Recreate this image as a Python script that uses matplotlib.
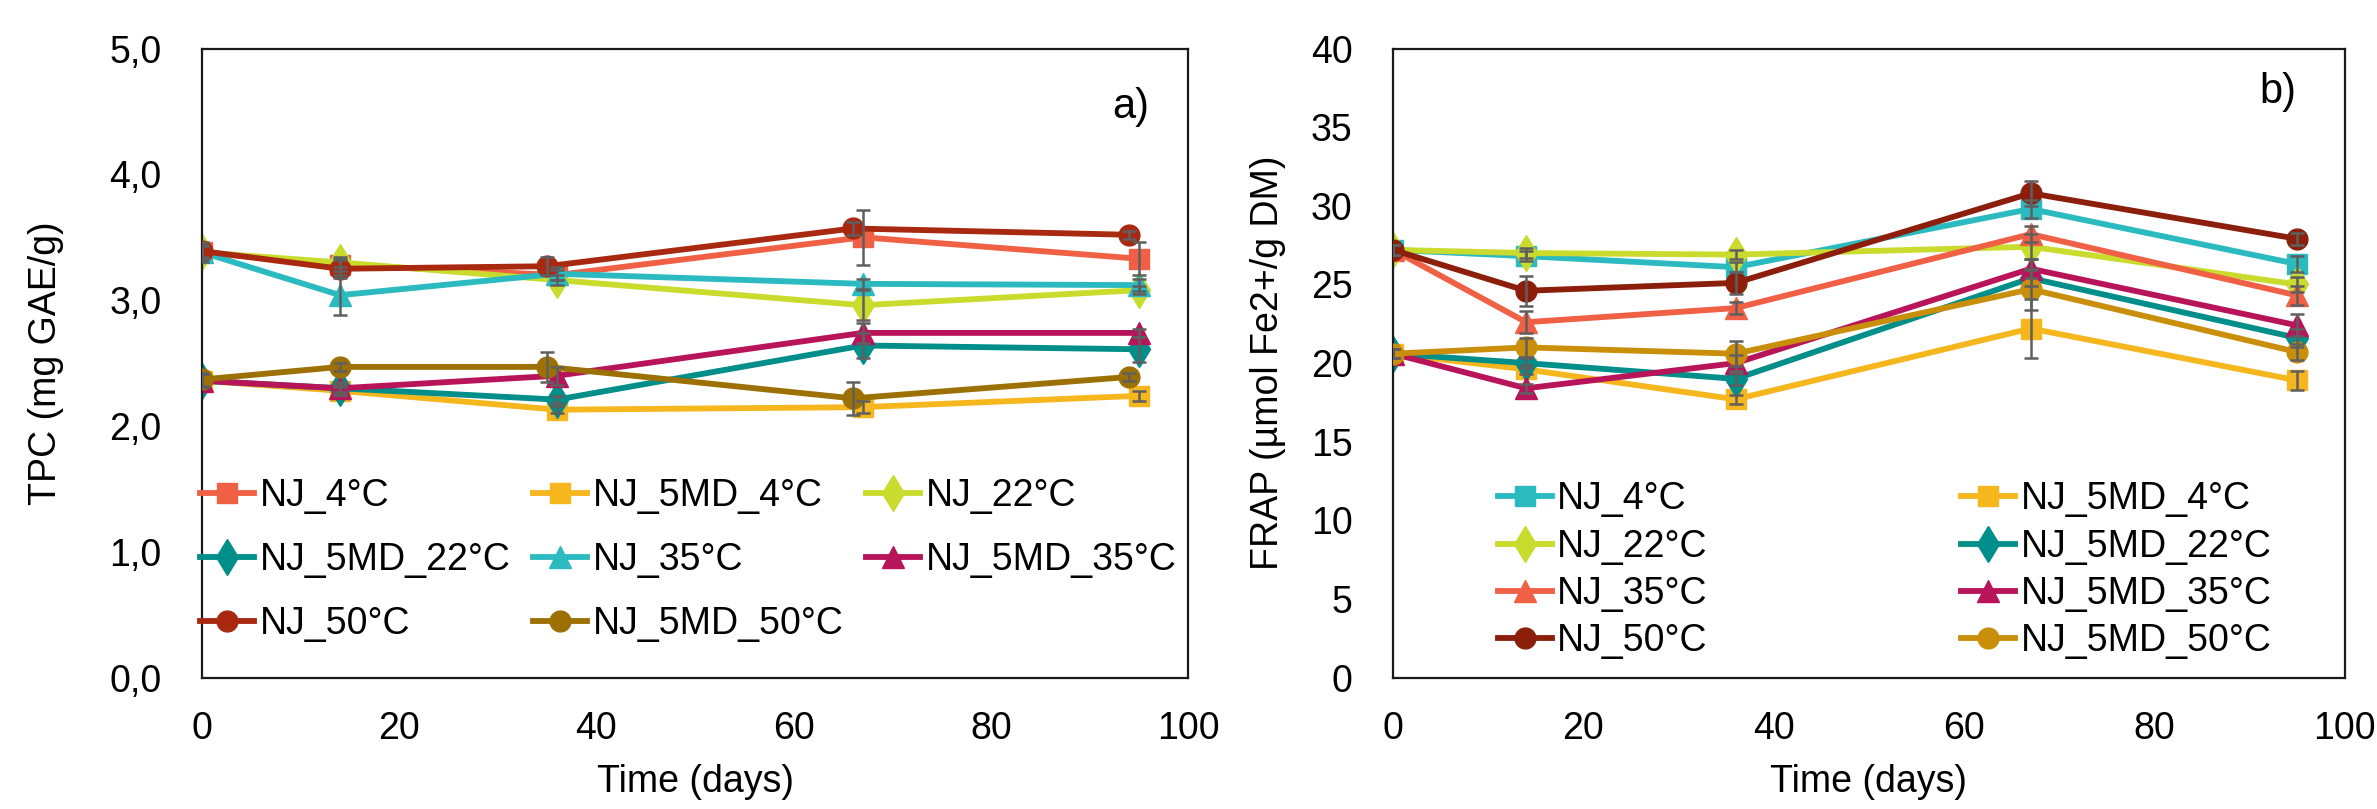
import matplotlib
matplotlib.use("Agg")
import matplotlib.pyplot as plt
from matplotlib.ticker import FuncFormatter, MultipleLocator

plt.rcParams['font.family'] = ['Liberation Sans', 'DejaVu Sans']

# ---------------- data ----------------
days = [0, 14, 36, 67, 95]
days_50 = [0, 14, 35, 66, 94]          # 50 °C series in panel a) plotted slightly shifted
days_right = [0, 14, 36, 67, 95]

labels = ["NJ_4°C", "NJ_5MD_4°C", "NJ_22°C", "NJ_5MD_22°C",
          "NJ_35°C", "NJ_5MD_35°C", "NJ_50°C", "NJ_5MD_50°C"]
markers = ["s", "s", "d", "d", "^", "^", "o", "o"]

# Panel a) TPC (mg GAE/g)
tpc_NJ_4 = [3.38, 3.28, 3.20, 3.50, 3.33]
tpc_5MD_4 = [2.36, 2.28, 2.13, 2.15, 2.24]
tpc_NJ_22 = [3.38, 3.30, 3.16, 2.96, 3.08]
tpc_5MD_22 = [2.36, 2.30, 2.21, 2.64, 2.61]
tpc_NJ_35 = [3.38, 3.04, 3.21, 3.13, 3.12]
tpc_5MD_35 = [2.36, 2.30, 2.40, 2.74, 2.74]
tpc_NJ_50 = [3.39, 3.25, 3.27, 3.57, 3.52]
tpc_5MD_50 = [2.37, 2.47, 2.47, 2.22, 2.39]

tpc_err_NJ_4 = [0.08, 0.05, 0.04, 0.22, 0.13]
tpc_err_5MD_4 = [0.05, 0.03, 0.03, 0.05, 0.04]
tpc_err_NJ_22 = [0.05, 0.04, 0.04, 0.12, 0.03]
tpc_err_5MD_22 = [0.05, 0.03, 0.03, 0.10, 0.10]
tpc_err_NJ_35 = [0.05, 0.16, 0.05, 0.04, 0.05]
tpc_err_5MD_35 = [0.05, 0.05, 0.07, 0.08, 0.03]
tpc_err_NJ_50 = [0.05, 0.07, 0.07, 0.05, 0.03]
tpc_err_5MD_50 = [0.05, 0.03, 0.12, 0.13, 0.03]

# Panel b) FRAP (µmol Fe2+/g DM)
frap_NJ_4 = [27.2, 26.8, 26.1, 29.8, 26.3]
frap_5MD_4 = [20.6, 19.6, 17.7, 22.2, 18.9]
frap_NJ_22 = [27.2, 27.0, 26.9, 27.4, 25.0]
frap_5MD_22 = [20.6, 20.0, 19.0, 25.4, 21.6]
frap_NJ_35 = [27.2, 22.6, 23.5, 28.2, 24.3]
frap_5MD_35 = [20.6, 18.4, 20.0, 26.0, 22.4]
frap_NJ_50 = [27.2, 24.6, 25.1, 30.8, 27.9]
frap_5MD_50 = [20.6, 21.0, 20.6, 24.7, 20.7]

frap_err_NJ_4 = [0.3, 0.3, 0.3, 0.6, 0.5]
frap_err_5MD_4 = [0.3, 0.3, 0.3, 1.85, 0.6]
frap_err_NJ_22 = [0.3, 0.3, 0.3, 0.8, 0.5]
frap_err_5MD_22 = [0.3, 0.3, 0.4, 0.5, 0.6]
frap_err_NJ_35 = [0.3, 0.7, 0.4, 0.5, 0.6]
frap_err_5MD_35 = [0.3, 0.3, 0.5, 0.6, 0.7]
frap_err_NJ_50 = [0.3, 0.95, 0.7, 0.8, 0.4]
frap_err_5MD_50 = [0.3, 0.6, 0.8, 1.3, 0.5]

colors_a = ["#EF6045", "#F5B61E", "#C9DB2D", "#008E8A",
            "#2BBAC0", "#B8145A", "#A82810", "#9C7002"]
colors_b = ["#2BBAC0", "#F5B61E", "#C9DB2D", "#008E8A",
            "#EF6045", "#B8145A", "#8B1F0C", "#C98F0A"]

tpc_series = [tpc_NJ_4, tpc_5MD_4, tpc_NJ_22, tpc_5MD_22,
              tpc_NJ_35, tpc_5MD_35, tpc_NJ_50, tpc_5MD_50]
tpc_errs = [tpc_err_NJ_4, tpc_err_5MD_4, tpc_err_NJ_22, tpc_err_5MD_22,
            tpc_err_NJ_35, tpc_err_5MD_35, tpc_err_NJ_50, tpc_err_5MD_50]
tpc_x = [days, days, days, days, days, days, days_50, days_50]

frap_series = [frap_NJ_4, frap_5MD_4, frap_NJ_22, frap_5MD_22,
               frap_NJ_35, frap_5MD_35, frap_NJ_50, frap_5MD_50]
frap_errs = [frap_err_NJ_4, frap_err_5MD_4, frap_err_NJ_22, frap_err_5MD_22,
             frap_err_NJ_35, frap_err_5MD_35, frap_err_NJ_50, frap_err_5MD_50]
frap_order = [0, 2, 4, 6, 1, 3, 5, 7]  # legend order for panel b

FS = 27
msizes = {"s": 14, "d": 18, "^": 16, "o": 15}

fig = plt.figure(figsize=(23.77, 8.09), dpi=100)
axA = fig.add_axes([0.085, 0.1623, 0.4148, 0.7777])
axB = fig.add_axes([0.5860, 0.1623, 0.4005, 0.7777])


def draw(ax, xs, series, errs, colors):
    handles = []
    for i, (x, y, e) in enumerate(zip(xs, series, errs)):
        h, = ax.plot(x, y, color=colors[i], lw=4.2, marker=markers[i],
                     ms=msizes[markers[i]], mec=colors[i], mfc=colors[i],
                     label=labels[i], zorder=2 + i * 0.1)
        handles.append(h)
    for i, (x, y, e) in enumerate(zip(xs, series, errs)):
        ax.errorbar(x, y, yerr=e, fmt='none', ecolor='#5f5f5f', elinewidth=1.8,
                    capsize=5, capthick=1.8, zorder=4)
    return handles


hA = draw(axA, tpc_x, tpc_series, tpc_errs, colors_a)
hB = draw(axB, [days_right] * 8, frap_series, frap_errs, colors_b)

for ax in (axA, axB):
    ax.set_xlim(0, 100)
    ax.xaxis.set_major_locator(MultipleLocator(20))
    ax.tick_params(axis='both', length=0, labelsize=FS)
    ax.tick_params(axis='x', pad=24)
    ax.tick_params(axis='y', pad=29)
    for s in ax.spines.values():
        s.set_linewidth(1.6)
        s.set_color('#1a1a1a')
    ax.set_xlabel("Time (days)", fontsize=27)
    ax.xaxis.set_label_coords(0.5, -0.165)
    ax.xaxis.label.set_va('center')

axA.set_ylim(0, 5)
axA.yaxis.set_major_locator(MultipleLocator(1))
axA.yaxis.set_major_formatter(FuncFormatter(lambda v, p: f"{v:.1f}".replace('.', ',')))
axA.set_ylabel("TPC (mg GAE/g)", fontsize=27)
axA.yaxis.set_label_coords(-0.158, 0.5)
axA.yaxis.label.set_va('center')

axB.set_ylim(0, 40)
axB.yaxis.set_major_locator(MultipleLocator(5))
axB.set_ylabel("FRAP (µmol Fe2+/g DM)", fontsize=27)
axB.yaxis.set_label_coords(-0.131, 0.5)
axB.yaxis.label.set_va('center')

axA.text(0.942, 0.907, "a)", transform=axA.transAxes, fontsize=30,
         ha='center', va='center')
axB.text(0.930, 0.931, "b)", transform=axB.transAxes, fontsize=30,
         ha='center', va='center')

# legend a: row-major order across 3 columns
orderA = [0, 3, 6, 1, 4, 7, 2, 5]
axA.legend([hA[i] for i in orderA], [labels[i] for i in orderA], ncol=3,
           loc='upper left', bbox_to_anchor=(-0.002, 0.318), frameon=False,
           fontsize=FS, handlelength=1.44, handletextpad=0.15,
           columnspacing=0.6, labelspacing=0.75, borderpad=0, borderaxespad=0)

axB.legend([hB[i] for i in frap_order], [labels[i] for i in frap_order], ncol=2,
           loc='upper left', bbox_to_anchor=(0.11, 0.312), frameon=False,
           fontsize=FS, handlelength=1.44, handletextpad=0.15,
           columnspacing=6.75, labelspacing=0.3, borderpad=0, borderaxespad=0)

fig.savefig("out.png", dpi=100)
